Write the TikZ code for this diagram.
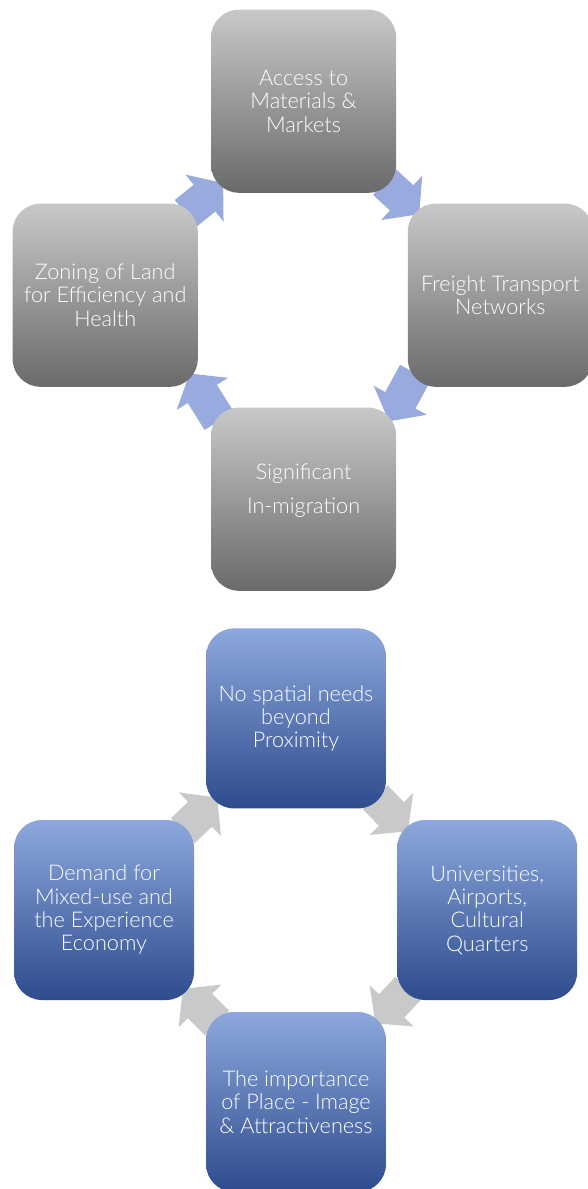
\documentclass[tikz,border=0pt]{standalone}
\usepackage{fontspec}
\setmainfont{Lato Light}
\usetikzlibrary{arrows.meta,backgrounds}
\definecolor{greytop}{HTML}{C8C8C8}
\definecolor{greybot}{HTML}{6A6A6A}
\definecolor{bluetop}{HTML}{8CA8DC}
\definecolor{bluebot}{HTML}{2E4B8E}
\definecolor{flowblue}{HTML}{98AADE}
\definecolor{flowgrey}{HTML}{C9C9C9}

\begin{document}
\begin{tikzpicture}[
    box/.style={rectangle, rounded corners=0.7cm, minimum width=4.63cm, minimum height=4.58cm,
      align=center, text=white, inner sep=2pt, font=\fontsize{15.4}{16.6}\selectfont},
    greybox/.style={box, top color=greytop, bottom color=greybot},
    bluebox/.style={box, top color=bluetop, bottom color=bluebot, minimum width=4.5cm, minimum height=4.5cm},
    flow/.style={line width=0.86cm, -{Triangle[width=1.48cm,length=0.6cm]},
      shorten <=-0.4cm, shorten >=-0.4cm}
  ]
  \useasboundingbox (0,0) rectangle (14.7,-29.725);

  % first cycle
  \node[greybox] (access) at (7.59,-2.53) {Access to\\Materials \&\\Markets};
  \node[greybox] (freight) at (12.51,-7.38) {Freight Transport\\Networks};
  \node[greybox] (migration) at (7.59,-12.48) {Significant\\[0.25cm]In-migration\\[-0.06cm]\mbox{}};
  \node[greybox] (zoning) at (2.63,-7.38) {Zoning of Land\\for Efficiency and\\Health};

  \begin{scope}[on background layer]
    \draw[flow,flowblue] (access.south east) -- (freight.north west);
    \draw[flow,flowblue] (freight.south west) -- (migration.north east);
    \draw[flow,flowblue] (migration.north west) -- (zoning.south east);
    \draw[flow,flowblue] (zoning.north east) -- (access.south west);
  \end{scope}

  % second cycle
  \node[bluebox] (proximity) at (7.40,-17.96) {No spatial needs\\beyond\\Proximity};
  \node[bluebox] (universities) at (12.18,-22.75) {Universities,\\Airports,\\Cultural\\Quarters};
  \node[bluebox] (place) at (7.40,-27.55) {The importance\\of Place - Image\\\& Attractiveness};
  \node[bluebox] (demand) at (2.60,-22.75) {Demand for\\Mixed-use and\\the Experience\\Economy};

  \begin{scope}[on background layer]
    \draw[flow,flowgrey] (proximity.south east) -- (universities.north west);
    \draw[flow,flowgrey] (universities.south west) -- (place.north east);
    \draw[flow,flowgrey] (place.north west) -- (demand.south east);
    \draw[flow,flowgrey] (demand.north east) -- (proximity.south west);
  \end{scope}
\end{tikzpicture}
\end{document}
